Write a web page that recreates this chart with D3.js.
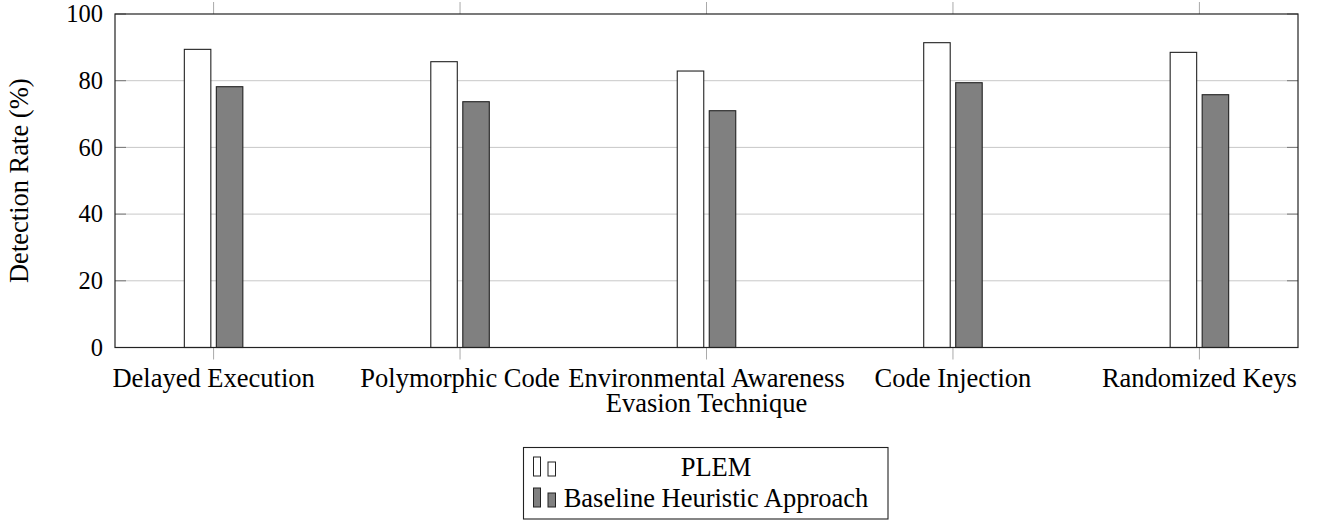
<!DOCTYPE html>
<html>
<head>
<meta charset="utf-8">
<script src="https://cdn.jsdelivr.net/npm/d3@7"></script>
<style>
  html, body { margin: 0; padding: 0; background: #fff; }
  svg { display: block; }
  text { font-family: "Liberation Serif", "Times New Roman", serif; fill: #000; }
</style>
</head>
<body>
<svg id="chart" width="1317" height="525"></svg>
<script>
const categories = ["Delayed Execution", "Polymorphic Code", "Environmental Awareness", "Code Injection", "Randomized Keys"];
const seriesNames = ["PLEM", "Baseline Heuristic Approach"];
const plemValues = [89.4, 85.7, 82.9, 91.4, 88.5];
const baselineValues = [78.2, 73.7, 71.0, 79.4, 75.8];
const yTicks = [0, 20, 40, 60, 80, 100];
const xAxisTitle = "Evasion Technique";
const yAxisTitle = "Detection Rate (%)";

const svg = d3.select("#chart");
const L = 115, R = 1298, T = 14, B = 347.5;

const x = d3.scalePoint().domain(categories).range([L, R]).padding(0.4);
const y = d3.scaleLinear().domain([0, 100]).range([B, T]);

const series = [
  { name: seriesNames[0], values: plemValues, fill: "#ffffff", offset: -16 },
  { name: seriesNames[1], values: baselineValues, fill: "#808080", offset: 16 }
];
const barW = 26.5;

// grid lines
svg.append("g").selectAll("line").data(yTicks.filter(d => d > 0 && d < 100)).join("line")
  .attr("x1", L).attr("x2", R)
  .attr("y1", d => y(d)).attr("y2", d => y(d))
  .attr("stroke", "#c8c8c8").attr("stroke-width", 1);

// y ticks inside (left and right)
const yt = svg.append("g");
yt.selectAll("line.l").data(yTicks).join("line").attr("class", "l")
  .attr("x1", L).attr("x2", L + 11).attr("y1", d => y(d)).attr("y2", d => y(d))
  .attr("stroke", "#777").attr("stroke-width", 1);
yt.selectAll("line.r").data(yTicks).join("line").attr("class", "r")
  .attr("x1", R - 11).attr("x2", R).attr("y1", d => y(d)).attr("y2", d => y(d))
  .attr("stroke", "#777").attr("stroke-width", 1);

// x ticks outside (top and bottom)
const xt = svg.append("g");
xt.selectAll("line.b").data(categories).join("line").attr("class", "b")
  .attr("x1", d => x(d)).attr("x2", d => x(d)).attr("y1", B).attr("y2", B + 12)
  .attr("stroke", "#aaa").attr("stroke-width", 1);
xt.selectAll("line.t").data(categories).join("line").attr("class", "t")
  .attr("x1", d => x(d)).attr("x2", d => x(d)).attr("y1", T - 12).attr("y2", T)
  .attr("stroke", "#aaa").attr("stroke-width", 1);

// bars
series.forEach(s => {
  svg.append("g").selectAll("rect").data(categories).join("rect")
    .attr("x", d => x(d) + s.offset - barW / 2)
    .attr("y", (d, i) => y(s.values[i]))
    .attr("width", barW)
    .attr("height", (d, i) => y(0) - y(s.values[i]))
    .attr("fill", s.fill)
    .attr("stroke", "#222").attr("stroke-width", 1.1);
});

// frame
svg.append("rect").attr("x", L).attr("y", T).attr("width", R - L).attr("height", B - T)
  .attr("fill", "none").attr("stroke", "#222").attr("stroke-width", 1.2);

// y tick labels
svg.append("g").selectAll("text").data(yTicks).join("text")
  .attr("x", L - 12).attr("y", d => y(d)).attr("dy", "0.34em")
  .attr("text-anchor", "end").style("font-size", "24.5px")
  .text(d => d);

// x tick labels
svg.append("g").selectAll("text").data(categories).join("text")
  .attr("x", d => x(d)).attr("y", 387)
  .attr("text-anchor", "middle").style("font-size", "26.5px")
  .text(d => d);

// x axis title
svg.append("text").attr("x", x(categories[2])).attr("y", 412)
  .attr("text-anchor", "middle").style("font-size", "26.5px").text(xAxisTitle);

// y axis title
svg.append("text").attr("transform", `translate(28,${(T + B) / 2}) rotate(-90)`)
  .attr("text-anchor", "middle").style("font-size", "26.5px").text(yAxisTitle);

// legend
const lg = svg.append("g");
lg.append("rect").attr("x", 523.5).attr("y", 447.5).attr("width", 364.5).attr("height", 71.5)
  .attr("fill", "#fff").attr("stroke", "#222").attr("stroke-width", 1.1);
const rowBase = [476, 507];
series.forEach((s, i) => {
  const g = lg.append("g");
  g.append("rect").attr("x", 533.5).attr("y", rowBase[i] - 19).attr("width", 7).attr("height", 19)
    .attr("fill", s.fill).attr("stroke", "#222").attr("stroke-width", 1);
  g.append("rect").attr("x", 548).attr("y", rowBase[i] - 14).attr("width", 7.5).attr("height", 14)
    .attr("fill", s.fill).attr("stroke", "#222").attr("stroke-width", 1);
  g.append("text").attr("x", 716).attr("y", rowBase[i])
    .attr("text-anchor", "middle").style("font-size", "26.5px").text(s.name);
});
</script>
</body>
</html>
